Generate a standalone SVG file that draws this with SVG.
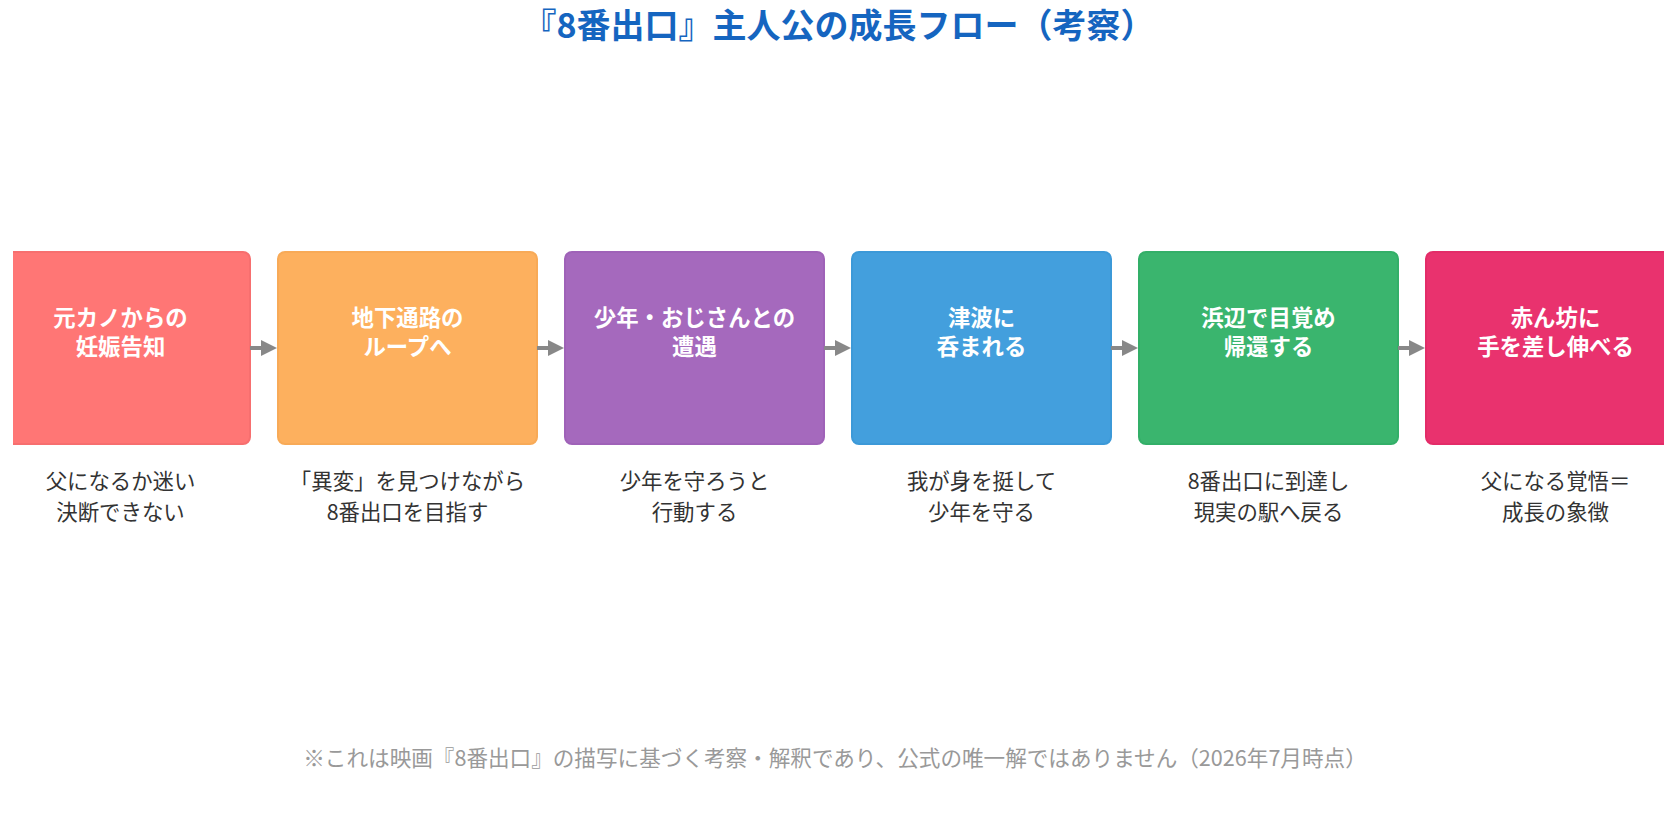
<svg xmlns="http://www.w3.org/2000/svg" width="1677" height="818" viewBox="0 0 1677 818">
<defs>
<style>
text{font-family:"Noto Sans CJK JP","Noto Sans",sans-serif;text-anchor:middle}
.title{font-size:34px;font-weight:700;fill:#1565C0}
.lbl{font-size:22.4px;font-weight:700;fill:#ffffff}
.sub{font-size:21.4px;fill:#333333}
.note{font-size:21.6px;fill:#999999}
.box{stroke-width:2}
.conn line{stroke:#888888;stroke-width:4}
.conn polygon{fill:#888888}
</style>
<clipPath id="clip"><rect x="13" y="0" width="1651" height="818"/></clipPath>
</defs>
<rect width="1677" height="818" fill="#ffffff"/>
<text class="title" x="838.5" y="38">『8番出口』主人公の成長フロー（考察）</text>
<g clip-path="url(#clip)">
<g id="n1"><rect class="box" x="-9" y="252" width="259" height="192" rx="7" fill="#FF7675" stroke="#F76F6F"/><text class="lbl" x="120.5" y="326">元カノからの</text><text class="lbl" x="120.5" y="355">妊娠告知</text></g>
<g id="n2"><rect class="box" x="278" y="252" width="259" height="192" rx="7" fill="#FDB05E" stroke="#F8AA57"/><text class="lbl" x="407.5" y="326">地下通路の</text><text class="lbl" x="407.5" y="355">ループへ</text></g>
<g id="n3"><rect class="box" x="565" y="252" width="259" height="192" rx="7" fill="#A569BD" stroke="#9F62B8"/><text class="lbl" x="694.5" y="326">少年・おじさんとの</text><text class="lbl" x="694.5" y="355">遭遇</text></g>
<g id="n4"><rect class="box" x="852" y="252" width="259" height="192" rx="7" fill="#439FDD" stroke="#3C99D8"/><text class="lbl" x="981.5" y="326">津波に</text><text class="lbl" x="981.5" y="355">呑まれる</text></g>
<g id="n5"><rect class="box" x="1139" y="252" width="259" height="192" rx="7" fill="#3AB56E" stroke="#33AF68"/><text class="lbl" x="1268.5" y="326">浜辺で目覚め</text><text class="lbl" x="1268.5" y="355">帰還する</text></g>
<g id="n6"><rect class="box" x="1426" y="252" width="259" height="192" rx="7" fill="#E9326E" stroke="#E32C68"/><text class="lbl" x="1555.5" y="326">赤ん坊に</text><text class="lbl" x="1555.5" y="355">手を差し伸べる</text></g>
</g>
<g id="connectors" class="conn">
<line x1="250" y1="348" x2="263" y2="348"/><polygon points="261,340 277,348 261,356"/>
<line x1="537" y1="348" x2="550" y2="348"/><polygon points="548,340 564,348 548,356"/>
<line x1="824" y1="348" x2="837" y2="348"/><polygon points="835,340 851,348 835,356"/>
<line x1="1111" y1="348" x2="1124" y2="348"/><polygon points="1122,340 1138,348 1122,356"/>
<line x1="1398" y1="348" x2="1411" y2="348"/><polygon points="1409,340 1425,348 1409,356"/>
</g>
<g id="subs">
<text class="sub" x="120.5" y="489">父になるか迷い</text><text class="sub" x="120.5" y="520">決断できない</text>
<text class="sub" x="407.5" y="489">「異変」を見つけながら</text><text class="sub" x="407.5" y="520">8番出口を目指す</text>
<text class="sub" x="694.5" y="489">少年を守ろうと</text><text class="sub" x="694.5" y="520">行動する</text>
<text class="sub" x="981.5" y="489">我が身を挺して</text><text class="sub" x="981.5" y="520">少年を守る</text>
<text class="sub" x="1268.5" y="489">8番出口に到達し</text><text class="sub" x="1268.5" y="520">現実の駅へ戻る</text>
<text class="sub" x="1555.5" y="489">父になる覚悟＝</text><text class="sub" x="1555.5" y="520">成長の象徴</text>
</g>
<text class="note" x="835" y="766">※これは映画『8番出口』の描写に基づく考察・解釈であり、公式の唯一解ではありません（2026年7月時点）</text>
</svg>
